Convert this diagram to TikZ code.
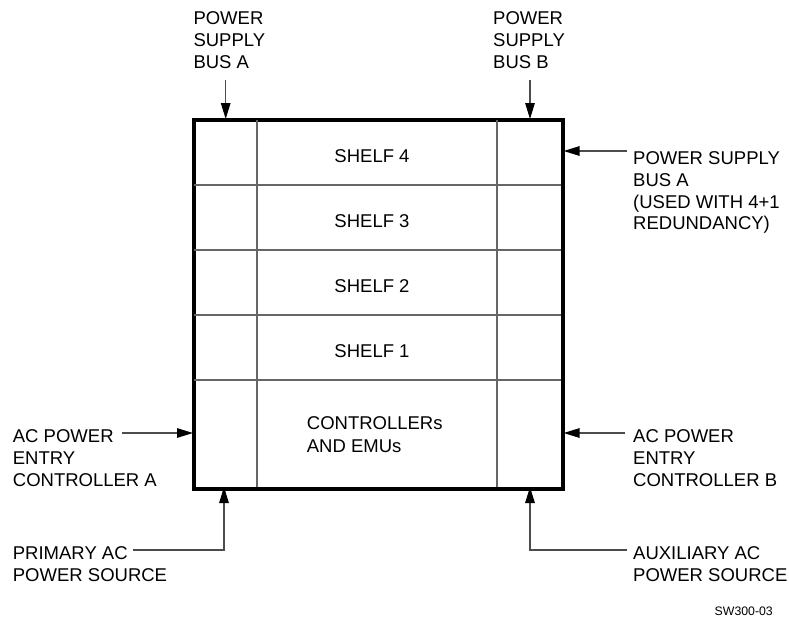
\documentclass[tikz,border=0pt]{standalone}
\usepackage{fontspec}
\setmainfont{Liberation Sans}
\usetikzlibrary{arrows.meta}
\tikzset{
  lbl/.style={inner sep=0pt, anchor=north west, align=left, font=\fontsize{18.5}{21.7}\selectfont},
  shelftxt/.style={inner sep=0pt, anchor=base, font=\fontsize{18.5}{21.7}\selectfont},
  grid/.style={draw=black!60, line width=1.4pt},
  arr/.style={draw=black!70, line width=1.4pt, -{Triangle[length=16pt,width=9.5pt,color=black]}},
  lin/.style={draw=black!70, line width=1.4pt}
}
\begin{document}
\begin{tikzpicture}[x=1pt,y=-1pt]
\useasboundingbox[fill=white] (0,0) rectangle (789,625);
% main box
\node[draw, line width=2.6pt, minimum width=368pt, minimum height=368pt, inner sep=0pt, anchor=north west] (box) at (193,119) {};
% grid lines
\draw[grid] (257,119) -- (257,487);
\draw[grid] (497,119) -- (497,487);
\foreach \yy in {185,250,315,380} \draw[grid] (193,\yy) -- (561,\yy);
\draw[line width=2.6pt] (box.north west) rectangle (box.south east);
% shelf texts
\node[shelftxt] (s4) at (372,162.7) {SHELF 4};
\node[shelftxt] (s3) at (372,227.7) {SHELF 3};
\node[shelftxt] (s2) at (372,292.7) {SHELF 2};
\node[shelftxt] (s1) at (372,357.7) {SHELF 1};
\node[lbl, font=\fontsize{18.5}{22.7}\selectfont] (ctl) at (306.7,416.5) {CONTROLLERs\\AND EMUs};
% labels
\node[lbl] (psa) at (193.3,11.5) {POWER\\SUPPLY\\BUS A};
\node[lbl] (psb) at (493,11.5) {POWER\\SUPPLY\\BUS B};
\node[lbl] (psr) at (633,151.5) {POWER SUPPLY\\BUS A\\(USED WITH 4+1\\REDUNDANCY)};
\node[lbl] (aca) at (12.7,429.5) {AC POWER\\ENTRY\\CONTROLLER A};
\node[lbl] (acb) at (633,429.5) {AC POWER\\ENTRY\\CONTROLLER B};
\node[lbl] (pri) at (12.7,546.5) {PRIMARY AC\\POWER SOURCE};
\node[lbl] (aux) at (633,546.5) {AUXILIARY AC\\POWER SOURCE};
\node[inner sep=0pt, anchor=north east, font=\fontsize{12.3}{14}\selectfont] (id) at (773,607) {SW300-03};
% connectors
\coordinate (ta) at (225.7,80);
\coordinate (tb) at (530,80);
\coordinate (rb) at (627,151);
\coordinate (la) at (122,433);
\coordinate (ra) at (625,433);
\coordinate (pl) at (133,550);
\coordinate (al) at (627,550);
\draw[arr] (ta) -- (ta |- box.north);
\draw[arr] (tb) -- (tb |- box.north);
\draw[arr] (rb) -- (rb -| box.east);
\draw[arr] (la) -- (la -| box.west);
\draw[arr] (ra) -- (ra -| box.east);
\draw[arr] (pl) -| (224,487);
\draw[arr] (al) -| (530,487);
\end{tikzpicture}
\end{document}
